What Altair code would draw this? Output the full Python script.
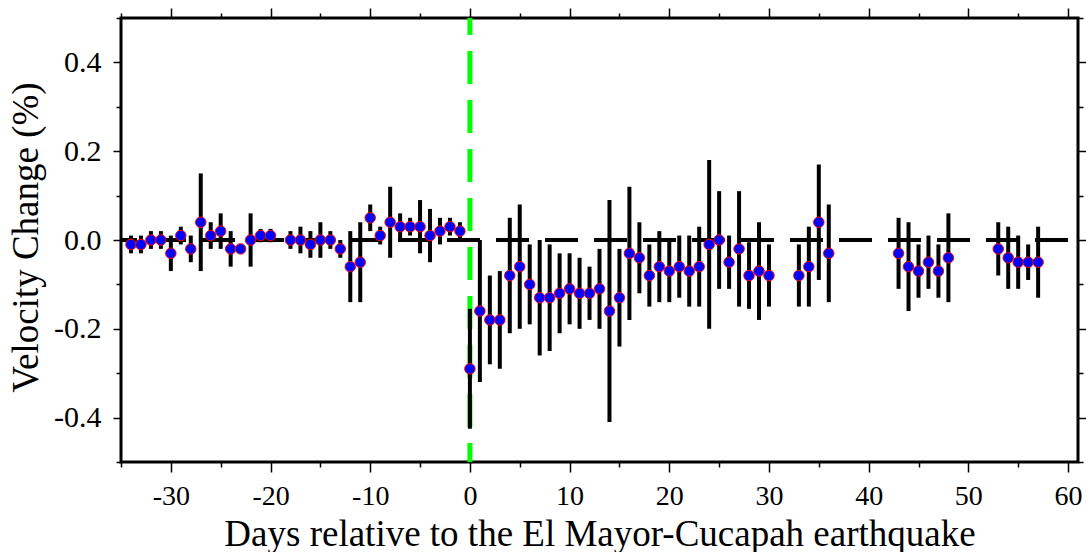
import altair as alt
import pandas as pd

# ---- data ----
days = [-34, -33, -32, -31, -30, -29, -28, -27, -26, -25, -24, -23, -22, -21, -20,
        -18, -17, -16, -15, -14, -13, -12, -11, -10, -9, -8, -7, -6, -5, -4, -3, -2, -1,
        0, 1, 2, 3, 4, 5, 6, 7, 8, 9, 10, 11, 12, 13, 14, 15, 16, 17, 18, 19, 20,
        21, 22, 23, 24, 25, 26, 27, 28, 29, 30,
        33, 34, 35, 36,
        43, 44, 45, 46, 47, 48,
        53, 54, 55, 56, 57]
velocity = [-0.01, -0.01, 0.0, 0.0, -0.03, 0.01, -0.02, 0.04, 0.01, 0.02, -0.02, -0.02, 0.0, 0.01, 0.01,
            0.0, 0.0, -0.01, 0.0, 0.0, -0.02, -0.06, -0.05, 0.05, 0.01, 0.04, 0.03, 0.03, 0.03, 0.01, 0.02, 0.03, 0.02,
            -0.29, -0.16, -0.18, -0.18, -0.08, -0.06, -0.10, -0.13, -0.13, -0.12, -0.11, -0.12, -0.12, -0.11, -0.16, -0.13, -0.03, -0.04, -0.08, -0.06, -0.07,
            -0.06, -0.07, -0.06, -0.01, 0.0, -0.05, -0.02, -0.08, -0.07, -0.08,
            -0.08, -0.06, 0.04, -0.03,
            -0.03, -0.06, -0.07, -0.05, -0.07, -0.04,
            -0.02, -0.04, -0.05, -0.05, -0.05]
error = [0.02, 0.02, 0.02, 0.02, 0.04, 0.02, 0.03, 0.11, 0.03, 0.04, 0.04, 0.01, 0.06, 0.015, 0.015,
         0.02, 0.03, 0.03, 0.04, 0.02, 0.02, 0.08, 0.09, 0.03, 0.02, 0.08, 0.03, 0.02, 0.06, 0.06, 0.03, 0.02, 0.02,
         0.135, 0.16, 0.10, 0.11, 0.13, 0.14, 0.09, 0.13, 0.12, 0.09, 0.08, 0.08, 0.06, 0.09, 0.25, 0.11, 0.15, 0.08, 0.07, 0.08, 0.07,
         0.07, 0.08, 0.09, 0.19, 0.11, 0.06, 0.13, 0.075, 0.11, 0.07,
         0.07, 0.09, 0.13, 0.11,
         0.08, 0.10, 0.06, 0.06, 0.06, 0.10,
         0.06, 0.07, 0.06, 0.04, 0.08]

event_day = [0]
zero_level = [0.0]

x_major = [-30, -20, -10, 0, 10, 20, 30, 40, 50, 60]
x_minor = [-35, -25, -15, -5, 5, 15, 25, 35, 45, 55]
y_major = [-0.4, -0.2, 0.0, 0.2, 0.4]
y_minor = [-0.5, -0.3, -0.1, 0.1, 0.3, 0.5]

x_title = "Days relative to the El Mayor-Cucapah earthquake"
y_title = "Velocity Change (%)"

df = pd.DataFrame({"day": days, "v": velocity, "e": error})
df["lo"] = df["v"] - df["e"]
df["hi"] = df["v"] + df["e"]

FONT = "Liberation Serif, Times New Roman, DejaVu Serif, serif"
xs = alt.Scale(domain=[-35, 61], nice=False, zero=False)
ys = alt.Scale(domain=[-0.5, 0.5], nice=False, zero=False)

X_LABEL = "(datum.value < 0 ? '-' : '') + abs(datum.value)"
Y_LABEL = "(datum.value < 0 ? '-' : '') + format(abs(datum.value), '.1f')"


def x_axis(orient, vals, size, labels=False, title=None):
    kw = dict(orient=orient, values=vals, tickSize=size, labels=labels,
              domain=False, grid=False, title=title)
    if labels:
        kw.update(labelExpr=X_LABEL, labelFontSize=28, labelPadding=10,
                  labelFont=FONT, labelColor="black")
    if title:
        kw.update(titleFont=FONT, titleFontSize=37, titleFontWeight="normal",
                  titleColor="black", titleX=478.5, titleY=83,
                  titleBaseline="alphabetic", titleAlign="center")
    return alt.Axis(**kw)


def y_axis(orient, vals, size, labels=False, title=None):
    kw = dict(orient=orient, values=vals, tickSize=size, labels=labels,
              domain=False, grid=False, title=title)
    if labels:
        kw.update(labelExpr=Y_LABEL, labelFontSize=30, labelPadding=12,
                  labelFont=FONT, labelColor="black")
    if title:
        kw.update(titleFont=FONT, titleFontSize=37, titleFontWeight="normal",
                  titleColor="black", titleAngle=270, titleX=-84, titleY=219,
                  titleBaseline="alphabetic", titleAlign="center")
    return alt.Axis(**kw)


green = alt.Chart(pd.DataFrame({"day": event_day})).mark_rule(
    color="#00ff00", strokeWidth=5, strokeDash=[33, 16], strokeDashOffset=16
).encode(x=alt.X("day:Q", scale=xs, axis=None))

# horizontal rule is drawn right-to-left by Vega-Lite
zero = alt.Chart(pd.DataFrame({"v": zero_level})).mark_rule(
    color="black", strokeWidth=4, strokeDash=[33, 16], strokeDashOffset=39
).encode(y=alt.Y("v:Q", scale=ys, axis=None))

bars = alt.Chart(df).mark_rule(color="black", strokeWidth=4).encode(
    x=alt.X("day:Q", scale=xs, axis=x_axis("bottom", x_major, 10, True, x_title)),
    y=alt.Y("lo:Q", scale=ys, axis=y_axis("left", y_major, 8, True, y_title)),
    y2="hi:Q",
)

points = alt.Chart(df).mark_circle(
    size=110, color="#0000ff", stroke="#ff0000", strokeWidth=1, opacity=1
).encode(
    x=alt.X("day:Q", scale=xs, axis=x_axis("bottom", x_minor, 5)),
    y=alt.Y("v:Q", scale=ys, axis=y_axis("left", y_minor, 5)),
)

ghost1 = alt.Chart(df).mark_point(opacity=0).encode(
    x=alt.X("day:Q", scale=xs, axis=x_axis("top", x_major, 10)),
    y=alt.Y("v:Q", scale=ys, axis=y_axis("right", y_major, 8)),
)

ghost2 = alt.Chart(df).mark_point(opacity=0).encode(
    x=alt.X("day:Q", scale=xs, axis=x_axis("top", x_minor, 5)),
    y=alt.Y("v:Q", scale=ys, axis=y_axis("right", y_minor, 5)),
)

chart = alt.layer(green, zero, bars, points, ghost1, ghost2).resolve_axis(
    x="independent", y="independent"
).properties(
    width=957, height=444,
    autosize=alt.AutoSizeParams(type="none"),
    padding={"left": 121, "top": 18, "right": 8, "bottom": 90},
).configure_view(
    stroke="black", strokeWidth=3
).configure_axis(
    tickColor="black", tickWidth=1.5
)

chart.save("out.html", embed_options={"renderer": "svg", "actions": False})
